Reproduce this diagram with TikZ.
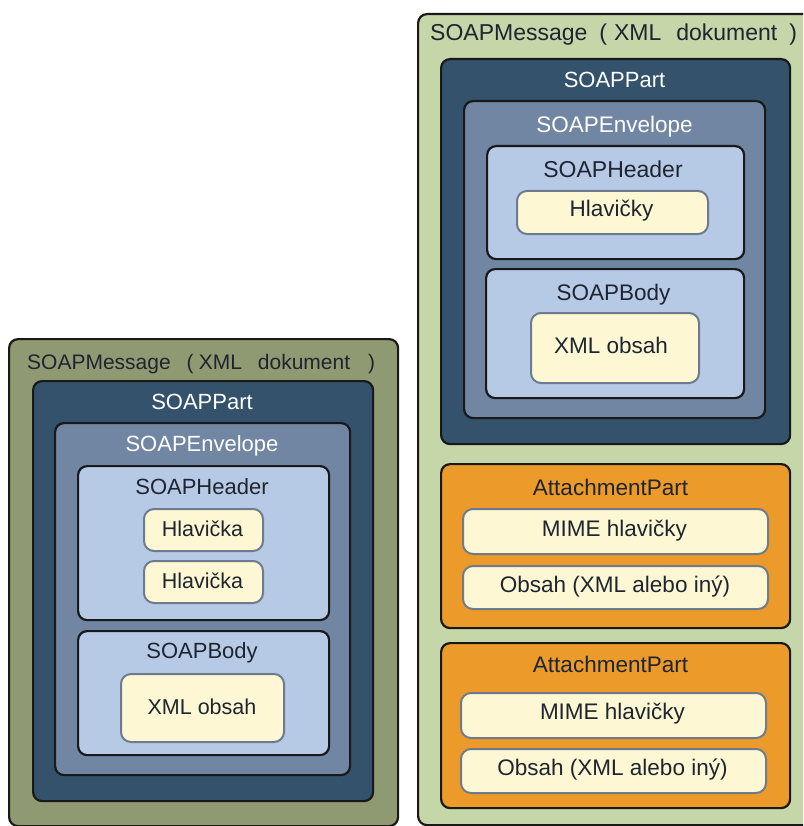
\documentclass[tikz,border=0pt]{standalone}
\usepackage{fontspec}
\setmainfont{Liberation Sans}
\definecolor{olive}{HTML}{8F9A72}
\definecolor{lgreen}{HTML}{C5D6A9}
\definecolor{navy}{HTML}{34526C}
\definecolor{slate}{HTML}{7186A2}
\definecolor{lblue}{HTML}{B6CAE6}
\definecolor{cream}{HTML}{FDF8D3}
\definecolor{orng}{HTML}{EC9B2A}
\definecolor{cborder}{HTML}{6E7B8F}
\definecolor{ink}{HTML}{1E2530}
\tikzset{
  frame/.style={draw=black!90, line width=2.2pt, rounded corners=9pt, inner sep=0pt, anchor=north west},
  item/.style={draw=cborder, line width=2pt, fill=cream, rounded corners=10pt, inner sep=0pt, anchor=north west},
  lbl/.style={font=\fontsize{21.5}{24}\selectfont, inner sep=0pt, anchor=base, text=ink},
  ttl/.style={lbl, font=\fontsize{22}{25}\selectfont},
  rlbl/.style={lbl, font=\fontsize{22.5}{25}\selectfont},
  wlbl/.style={ttl, text=white},
  rwlbl/.style={rlbl, text=white},
}
\begin{document}
\begin{tikzpicture}[x=1pt,y=-1pt]
\useasboundingbox (0,0) rectangle (803,826);
\clip (0,0) rectangle (803,826);
% ---------- left ----------
\node[frame, fill=olive, minimum width=389pt, minimum height=487pt] (lmsg) at (8,338) {};
\node[lbl, font=\fontsize{21}{24}\selectfont, anchor=base west] (lmsgt) at (27,369.5) {SOAPMessage\hspace{16pt}(\hspace{5pt}XML\hspace{16pt}dokument\hspace{18pt})};
\node[frame, fill=navy, minimum width=340pt, minimum height=420pt] (lpart) at (32,380) {};
\node[wlbl] (lpartt) at (202,409.5) {SOAPPart};
\node[frame, fill=slate, minimum width=295pt, minimum height=352pt] (lenv) at (54,422) {};
\node[wlbl] (lenvt) at (202,451.5) {SOAPEnvelope};
\node[frame, fill=lblue, minimum width=251pt, minimum height=154pt] (lhdr) at (77,465) {};
\node[ttl] (lhdrt) at (202,494.5) {SOAPHeader};
\node[item, minimum width=119pt, minimum height=42pt] (lh1) at (143,508) {};
\node[lbl] (lh1t) at (202.5,536.5) {Hlavička};
\node[item, minimum width=119pt, minimum height=42pt] (lh2) at (143,560) {};
\node[lbl] (lh2t) at (202.5,588.5) {Hlavička};
\node[frame, fill=lblue, minimum width=251pt, minimum height=124pt] (lbody) at (77,630) {};
\node[ttl] (lbodyt) at (202,658.5) {SOAPBody};
\node[item, minimum width=163pt, minimum height=68pt] (lxml) at (120,673) {};
\node[lbl] (lxmlt) at (202,714.5) {XML obsah};
% ---------- right ----------
\node[frame, fill=lgreen, minimum width=400pt, minimum height=811pt] (rmsg) at (417,13) {};
\node[lbl, anchor=base west, font=\fontsize{23}{26}\selectfont] (rmsgt) at (430,41) {SOAPMessage\hspace{12pt}(\hspace{7pt}XML\hspace{15pt}dokument\hspace{12pt})};
\node[frame, fill=navy, minimum width=349pt, minimum height=385pt] (rpart) at (440,58) {};
\node[wlbl] (rpartt) at (614.5,87.5) {SOAPPart};
\node[frame, fill=slate, minimum width=301pt, minimum height=317pt] (renv) at (463,100) {};
\node[rwlbl] (renvt) at (614.5,132.5) {SOAPEnvelope};
\node[frame, fill=lblue, minimum width=257pt, minimum height=113pt] (rhdr) at (486,145) {};
\node[rlbl, font=\fontsize{23}{26}\selectfont] (rhdrt) at (613,178) {SOAPHeader};
\node[item, minimum width=191pt, minimum height=43pt] (rh) at (516,190) {};
\node[rlbl] (rht) at (611.5,217) {Hlavičky};
\node[frame, fill=lblue, minimum width=258pt, minimum height=129pt] (rbody) at (485,268) {};
\node[rlbl] (rbodyt) at (613.5,300) {SOAPBody};
\node[item, minimum width=168pt, minimum height=70pt] (rxml) at (530,312) {};
\node[rlbl] (rxmlt) at (611,353) {XML obsah};
\node[frame, fill=orng, minimum width=349pt, minimum height=164pt] (ra1) at (440,463) {};
\node[rlbl] (ra1t) at (610.5,495) {AttachmentPart};
\node[item, minimum width=305pt, minimum height=45pt] (rm1) at (462,508) {};
\node[rlbl] (rm1t) at (614.5,536) {MIME hlavičky};
\node[item, minimum width=305pt, minimum height=43pt] (ro1) at (462,565) {};
\node[rlbl] (ro1t) at (615,592.5) {Obsah (XML alebo iný)};
\node[frame, fill=orng, minimum width=349pt, minimum height=165pt] (ra2) at (440,642) {};
\node[rlbl] (ra2t) at (610.5,672) {AttachmentPart};
\node[item, minimum width=305pt, minimum height=45pt] (rm2) at (460,692) {};
\node[rlbl] (rm2t) at (612.5,719) {MIME hlavičky};
\node[item, minimum width=305pt, minimum height=44pt] (ro2) at (460,748) {};
\node[rlbl] (ro2t) at (612.5,775.5) {Obsah (XML alebo iný)};
\end{tikzpicture}
\end{document}
